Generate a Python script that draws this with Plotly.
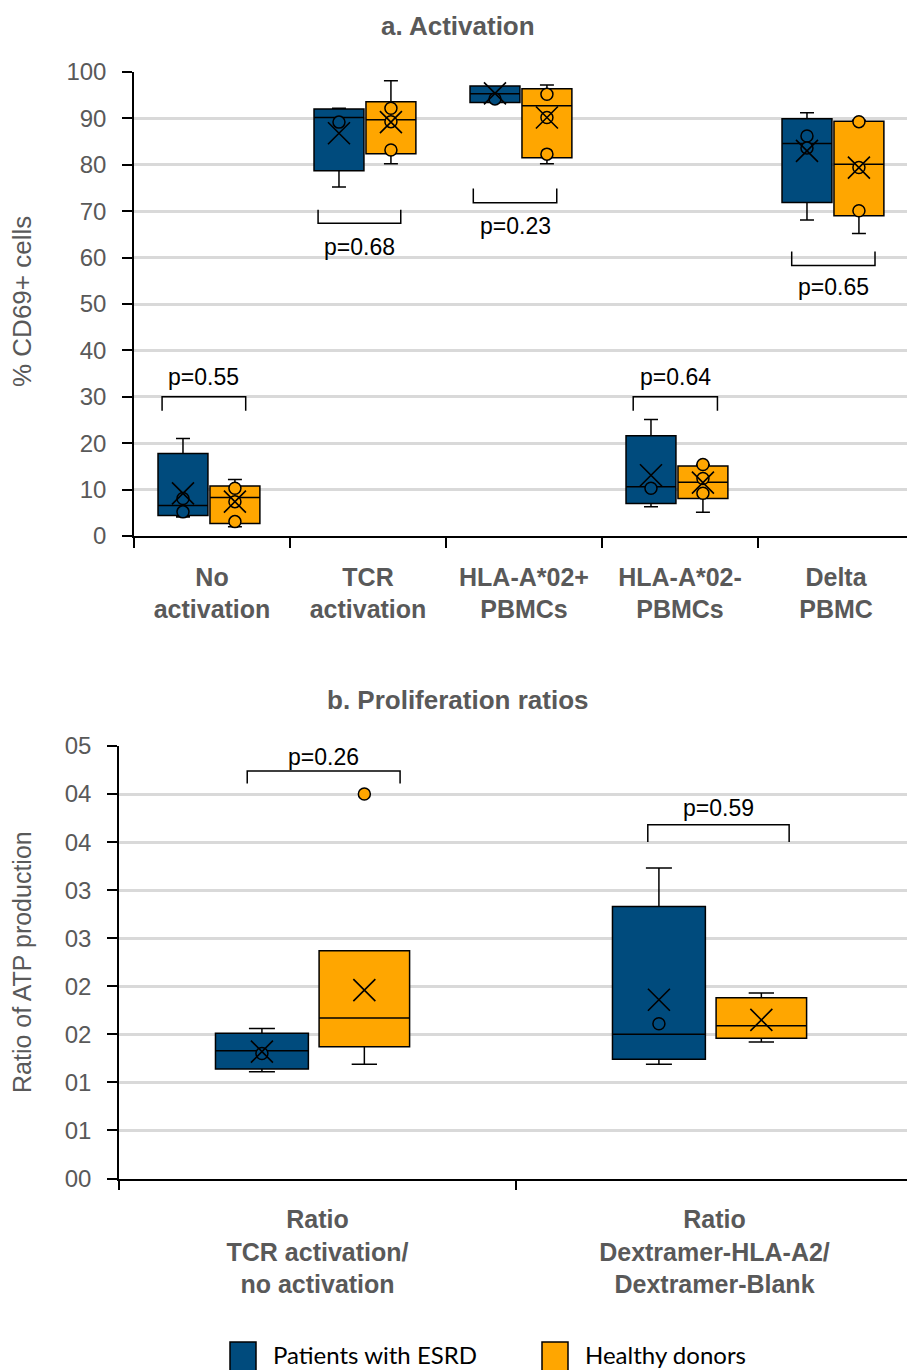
import plotly.graph_objects as go

W, H = 907, 1370
BLUE = "#004B7D"
ORANGE = "#FFA600"
GRAY = "#595959"
FONT = "Arial, Liberation Sans, sans-serif"

# ---------------- Panel a data ----------------
cats_a = ["No<br>activation", "TCR<br>activation", "HLA-A*02+<br>PBMCs", "HLA-A*02-<br>PBMCs", "Delta<br>PBMC"]

esrd_a_lower = [4.1, 75.2, 93.4, 6.3, 68.1]
esrd_a_q1 = [4.4, 78.7, 93.4, 7.0, 71.9]
esrd_a_median = [6.6, 90.2, 95.3, 10.6, 84.6]
esrd_a_q3 = [17.8, 92.0, 97.0, 21.6, 89.9]
esrd_a_upper = [21.0, 92.2, 97.0, 25.1, 91.2]
esrd_a_mean = [9.2, 86.8, 95.4, 13.1, 83.0]
esrd_a_points = [[8.1, 5.2], [89.2], [94.2], [10.3], [86.2, 83.6]]

hd_a_lower = [2.0, 80.2, 80.2, 5.1, 65.2]
hd_a_q1 = [2.7, 82.4, 81.5, 8.1, 69.0]
hd_a_median = [8.3, 89.7, 92.7, 11.6, 80.1]
hd_a_q3 = [10.8, 93.6, 96.4, 15.1, 89.4]
hd_a_upper = [12.2, 98.1, 97.2, 15.4, 89.6]
hd_a_mean = [7.4, 89.2, 90.2, 11.5, 79.4]
hd_a_points = [[10.3, 7.4, 3.1], [92.2, 89.3, 83.2], [95.2, 90.2, 82.3], [15.4, 12.4, 9.2], [89.3, 79.4, 70.1]]

pvals_a = ["p=0.55", "p=0.68", "p=0.23", "p=0.64", "p=0.65"]
bracket_a_bar = [30.0, 67.4, 71.8, 30.0, 58.3]
bracket_a_leg = [27.0, 70.3, 74.9, 27.0, 61.3]
bracket_a_text = [34.3, 62.3, 66.8, 34.3, 53.7]
bracket_a_left = [-0.32, -0.32, -0.325, -0.30, -0.284]
bracket_a_right = [0.216, 0.21, 0.21, 0.24, 0.25]

# ---------------- Panel b data ----------------
cats_b = ["Ratio<br>TCR activation/<br>no activation", "Ratio<br>Dextramer-HLA-A2/<br>Dextramer-Blank"]
yticks_b = [0, 0.5, 1.0, 1.5, 2.0, 2.5, 3.0, 3.5, 4.0, 4.5]
yticktext_b = ["00", "01", "01", "02", "02", "03", "03", "04", "04", "05"]

esrd_b_lower = [1.11, 1.19]
esrd_b_q1 = [1.14, 1.24]
esrd_b_median = [1.33, 1.50]
esrd_b_q3 = [1.51, 2.83]
esrd_b_upper = [1.56, 3.23]
esrd_b_mean = [1.32, 1.86]
esrd_b_points = [[1.30], [1.61]]

hd_b_lower = [1.19, 1.42]
hd_b_q1 = [1.37, 1.46]
hd_b_median = [1.67, 1.59]
hd_b_q3 = [2.37, 1.88]
hd_b_upper = [2.37, 1.93]
hd_b_mean = [1.96, 1.65]
hd_b_outliers = [[4.0], []]

pvals_b = ["p=0.26", "p=0.59"]
bracket_b_bar = [4.24, 3.68]
bracket_b_leg = [4.11, 3.50]
bracket_b_text = [4.39, 3.86]
bracket_b_left = [-0.177, -0.168]
bracket_b_right = [0.208, 0.188]

# layout helpers (pixel geometry)
def px_x(p):
    return p / W

def px_y(p):
    return 1 - p / H

fig = go.Figure()

def add_group(xa, ya, n, off, width, lower, q1, med, q3, upper, mean, pts, color):
    xs = [i + off for i in range(n)]
    fig.add_trace(go.Box(
        x=xs, lowerfence=lower, q1=q1, median=med, q3=q3, upperfence=upper,
        width=width, whiskerwidth=0.28, fillcolor=color,
        line=dict(color="black", width=1.5), boxpoints=False,
        xaxis=xa, yaxis=ya, showlegend=False, hoverinfo="skip"))
    px, py = [], []
    for i, arr in enumerate(pts):
        for v in arr:
            px.append(i + off)
            py.append(v)
    if px:
        fig.add_trace(go.Scatter(
            x=px, y=py, mode="markers", xaxis=xa, yaxis=ya, showlegend=False,
            marker=dict(symbol="circle", size=12, color=color,
                        line=dict(color="black", width=1.5)), hoverinfo="skip"))
    fig.add_trace(go.Scatter(
        x=xs, y=mean, mode="markers", xaxis=xa, yaxis=ya, showlegend=False,
        marker=dict(symbol="x-thin", size=22, color="black",
                    line=dict(color="black", width=1.6)), hoverinfo="skip"))

add_group("x", "y", 5, -0.186, 0.32, esrd_a_lower, esrd_a_q1, esrd_a_median, esrd_a_q3,
          esrd_a_upper, esrd_a_mean, esrd_a_points, BLUE)
add_group("x", "y", 5, 0.147, 0.32, hd_a_lower, hd_a_q1, hd_a_median, hd_a_q3,
          hd_a_upper, hd_a_mean, hd_a_points, ORANGE)
add_group("x2", "y2", 2, -0.14, 0.234, esrd_b_lower, esrd_b_q1, esrd_b_median, esrd_b_q3,
          esrd_b_upper, esrd_b_mean, esrd_b_points, BLUE)
add_group("x2", "y2", 2, 0.118, 0.228, hd_b_lower, hd_b_q1, hd_b_median, hd_b_q3,
          hd_b_upper, hd_b_mean, hd_b_outliers, ORANGE)

shapes = []
annotations = []

def add_brackets(xref, yref, lefts, rights, bars, legs, texts, labels):
    for i in range(len(labels)):
        x0, x1 = i + lefts[i], i + rights[i]
        path = f"M {x0},{legs[i]} L {x0},{bars[i]} L {x1},{bars[i]} L {x1},{legs[i]}"
        shapes.append(dict(type="path", path=path, xref=xref, yref=yref,
                           line=dict(color="black", width=1.5)))
        annotations.append(dict(x=(x0 + x1) / 2, y=texts[i], xref=xref, yref=yref,
                                text=labels[i], showarrow=False,
                                font=dict(family=FONT, size=23, color="black"),
                                xanchor="center", yanchor="middle"))

add_brackets("x", "y", bracket_a_left, bracket_a_right, bracket_a_bar, bracket_a_leg, bracket_a_text, pvals_a)
add_brackets("x2", "y2", bracket_b_left, bracket_b_right, bracket_b_bar, bracket_b_leg, bracket_b_text, pvals_b)

# titles
annotations.append(dict(x=px_x(458), y=px_y(26), xref="paper", yref="paper", text="a. Activation",
                        showarrow=False, font=dict(family=FONT, size=26, color=GRAY, weight="bold"),
                        xanchor="center", yanchor="middle"))
annotations.append(dict(x=px_x(458), y=px_y(700), xref="paper", yref="paper", text="b. Proliferation ratios",
                        showarrow=False, font=dict(family=FONT, size=26, color=GRAY, weight="bold"),
                        xanchor="center", yanchor="middle"))
# axis titles
annotations.append(dict(x=px_x(22), y=px_y(302), xref="paper", yref="paper", text="% CD69+ cells",
                        textangle=-90, showarrow=False, font=dict(family=FONT, size=26, color=GRAY),
                        xanchor="center", yanchor="middle"))
annotations.append(dict(x=px_x(22), y=px_y(962), xref="paper", yref="paper", text="Ratio of ATP production",
                        textangle=-90, showarrow=False, font=dict(family=FONT, size=25, color=GRAY),
                        xanchor="center", yanchor="middle"))

# legend (manual)
legend_items = [("Patients with ESRD", BLUE, 230), ("Healthy donors", ORANGE, 542)]
for name, col, x0 in legend_items:
    shapes.append(dict(type="rect", xref="paper", yref="paper",
                       x0=px_x(x0), x1=px_x(x0 + 26), y0=px_y(1342), y1=px_y(1373),
                       fillcolor=col, line=dict(color="black", width=1.5)))
    annotations.append(dict(x=px_x(x0 + 41), y=px_y(1354), xref="paper", yref="paper", text=name,
                            showarrow=False, font=dict(family="Lato", size=24, color="black"),
                            xanchor="left", yanchor="middle"))

common_x = dict(showline=True, linecolor="black", linewidth=1.5, showgrid=False, zeroline=False,
                ticks="", tickmode="array",
                tickfont=dict(family=FONT, size=25, color=GRAY, weight="bold"),
                ticklabelstandoff=18)
common_y = dict(showline=True, linecolor="black", linewidth=1.5, zeroline=False,
                ticks="outside", ticklen=10, tickcolor="black", tickwidth=1.5,
                showgrid=True, gridcolor="#D9D9D9", gridwidth=2.5,
                tickfont=dict(family=FONT, size=24, color=GRAY), ticklabelstandoff=11)

fig.update_layout(
    width=W, height=H, margin=dict(l=0, r=0, t=0, b=0, autoexpand=False),
    paper_bgcolor="white", plot_bgcolor="white", boxmode="overlay",
    showlegend=False,
    xaxis=dict(domain=[px_x(134), 1], range=[-0.5, (907 - 134) / 156 - 0.5],
               tickvals=list(range(len(cats_a))), ticktext=cats_a,
               minor=dict(tickvals=[i - 0.5 for i in range(len(cats_a))], ticks="outside",
                          ticklen=10, tickcolor="black", tickwidth=1.5, showgrid=False),
               anchor="y", **common_x),
    yaxis=dict(domain=[px_y(536), px_y(72)], range=[0, 100], dtick=10, tick0=0,
               anchor="x", **common_y),
    xaxis2=dict(domain=[px_x(119), 1], range=[-0.5, (907 - 119) / 397 - 0.5],
                tickvals=list(range(len(cats_b))), ticktext=cats_b,
                minor=dict(tickvals=[i - 0.5 for i in range(len(cats_b))], ticks="outside",
                           ticklen=10, tickcolor="black", tickwidth=1.5, showgrid=False),
                anchor="y2", **common_x),
    yaxis2=dict(domain=[px_y(1178.5), px_y(746)], range=[0, 4.5], tickmode="array",
                tickvals=yticks_b, ticktext=yticktext_b, anchor="x2", **common_y),
    shapes=shapes, annotations=annotations,
)

fig.write_html("out.html")
